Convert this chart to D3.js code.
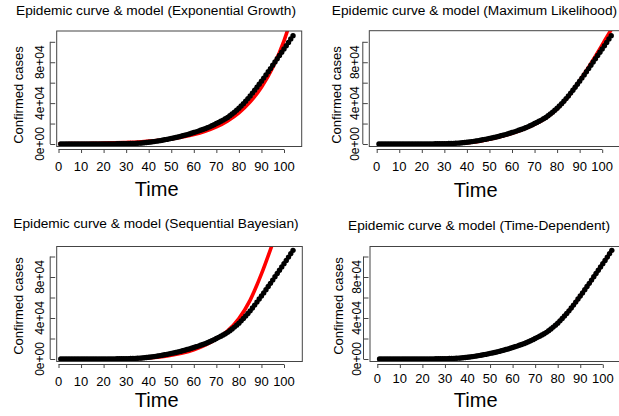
<!DOCTYPE html>
<html>
<head>
<meta charset="utf-8">
<script src="https://cdn.jsdelivr.net/npm/d3@7/dist/d3.min.js"></script>
<style>
  html, body { margin: 0; padding: 0; background: #fff; }
  svg { display: block; }
  text { font-family: "Liberation Sans", Arial, Helvetica, sans-serif; fill: #000; }
</style>
</head>
<body>
<svg id="chart" width="619" height="416"></svg>
<script>
// ---- Data ----
const cases = [
  5, 6, 8, 10, 12, 15, 18, 20, 25, 30,
  35, 40, 45, 50, 55, 60, 70, 80, 95, 110,
  120, 130, 140, 155, 170, 190, 215, 245, 290, 350,
  400, 450, 520, 600, 700, 820, 960, 1150, 1400, 1700,
  2000, 2300, 2600, 2950, 3300, 3700, 4100, 4500, 5000, 5500,
  5900, 6400, 6900, 7400, 8000, 8600, 9200, 9800, 10500, 11200,
  11900, 12600, 13400, 14200, 15000, 15900, 16800, 17800, 18900, 20000,
  21100, 22200, 23400, 24700, 26000, 27600, 29300, 31100, 33000, 35000,
  37200, 39500, 41900, 44400, 47000, 49800, 52600, 55500, 58500, 61500,
  64500, 67600, 70700, 73800, 77000, 80200, 83400, 86600, 89800, 93000,
  96200, 99400, 102700, 106000
];
const days = cases.map((_, i) => i + 1);

// Exponential Growth model
const egTime  = [0, 5, 10, 15, 20, 25, 30, 35, 40, 45, 50, 55, 60, 65, 70, 75, 80, 85, 90, 95, 100, 102];
const egModel = [250, 340, 460, 620, 830, 1100, 1500, 2000, 2800, 3700, 5000, 6800, 9200, 12400, 16700, 22600, 30500, 41200, 55600, 75000, 101000, 114000];

// Maximum Likelihood model
const mlTime  = [1, 10, 20, 30, 35, 40, 45, 50, 55, 60, 65, 70, 75, 80, 85, 90, 95, 100, 102, 104];
const mlModel = [30, 60, 150, 400, 700, 1200, 2500, 4600, 7300, 10500, 14400, 19200, 25500, 34300, 46500, 61800, 78800, 97000, 104500, 112000];

// Sequential Bayesian model
const sbTime  = [1, 10, 20, 30, 35, 40, 45, 50, 55, 60, 65, 70, 75, 80, 85, 90, 95];
const sbModel = [5, 20, 80, 250, 500, 1000, 2000, 3600, 5800, 9000, 13500, 19500, 27500, 39500, 57500, 83000, 113000];

// Time-Dependent model (overlaps the observed curve)
const tdTime  = days;
const tdModel = cases;

const xTicks = [0, 10, 20, 30, 40, 50, 60, 70, 80, 90, 100];
const yTicks = [0, 20000, 40000, 60000, 80000, 100000];
const yTickLabels = {0: "0e+00", 40000: "4e+04", 80000: "8e+04"};

const titles = [
  "Epidemic curve & model (Exponential Growth)",
  "Epidemic curve & model (Maximum Likelihood)",
  "Epidemic curve & model (Sequential Bayesian)",
  "Epidemic curve & model (Time-Dependent)"
];

// ---- Layout per panel ----
const panels = [
  { title: titles[0], mt: egTime, mv: egModel,
    box: {l: 56.7, r: 301.7, t: 31, b: 146.5}, x0: 58.5, y0: 144, y100: 41.8,
    titleX: 156, titleY: 15, timeX: 156.7, timeY: 196, ylabX: 18.3, ylabY: 95, tickLabX: 40, xLabY: 171 },
  { title: titles[1], mt: mlTime, mv: mlModel,
    box: {l: 369.3, r: 620, t: 30.7, b: 146.5}, x0: 376.7, y0: 144, y100: 41.8,
    titleX: 474.5, titleY: 15, timeX: 475.7, timeY: 197, ylabX: 336.7, ylabY: 95, tickLabX: 355, xLabY: 171 },
  { title: titles[2], mt: sbTime, mv: sbModel,
    box: {l: 56.7, r: 302.3, t: 246.5, b: 361.5}, x0: 58.5, y0: 359, y100: 256.5,
    titleX: 156, titleY: 227.5, timeX: 156.7, timeY: 407, ylabX: 18.3, ylabY: 306, tickLabX: 40, xLabY: 385.5 },
  { title: titles[3], mt: tdTime, mv: tdModel,
    box: {l: 370, r: 620, t: 246.5, b: 361.5}, x0: 377.3, y0: 359, y100: 256.5,
    titleX: 479, titleY: 229.5, timeX: 475.7, timeY: 407, ylabX: 338, ylabY: 306, tickLabX: 356.7, xLabY: 383 }
];

const svg = d3.select("#chart");
const pxPer10 = 22.55;

panels.forEach((p, i) => {
  const b = p.box;
  const x = d3.scaleLinear()
    .domain([(b.l - p.x0) / pxPer10 * 10, (b.r - p.x0) / pxPer10 * 10])
    .range([b.l, b.r]);
  const pxPerUnit = (p.y0 - p.y100) / 100000;
  const y = d3.scaleLinear()
    .domain([(p.y0 - b.b) / pxPerUnit, (p.y0 - b.t) / pxPerUnit])
    .range([b.b, b.t]);

  const g = svg.append("g");

  g.append("clipPath").attr("id", "clip" + i)
    .append("rect").attr("x", b.l).attr("y", b.t)
    .attr("width", b.r - b.l).attr("height", b.b - b.t);

  // model line
  const line = d3.line().x((d, j) => x(p.mt[j])).y(d => y(d)).curve(d3.curveMonotoneX);
  g.append("path")
    .attr("clip-path", `url(#clip${i})`)
    .attr("d", line(p.mv))
    .attr("fill", "none").attr("stroke", "#ff0000").attr("stroke-width", 3.6);

  // observed points
  g.append("g").attr("clip-path", `url(#clip${i})`)
    .selectAll("circle").data(cases).join("circle")
    .attr("cx", (d, j) => x(days[j])).attr("cy", d => y(d))
    .attr("r", 2.7).attr("fill", "#000");

  // box
  g.append("rect").attr("x", b.l).attr("y", b.t)
    .attr("width", b.r - b.l).attr("height", b.b - b.t)
    .attr("fill", "none").attr("stroke", "#444").attr("stroke-width", 1);

  // x axis
  const xa = g.append("g").attr("transform", `translate(0,${b.b + 3})`);
  xa.call(d3.axisBottom(x).tickValues(xTicks).tickSize(3.5).tickFormat(""));
  xa.select(".domain").attr("stroke", "#444").attr("d", `M${x(0)},0H${x(100)}`);
  xa.selectAll(".tick line").attr("stroke", "#444");
  g.selectAll(".xlab").data(xTicks).join("text")
    .attr("x", d => x(d)).attr("y", p.xLabY)
    .attr("text-anchor", "middle").style("font-size", "13px")
    .text(d => d);

  // y axis
  const axX = b.l - 6.5;
  const ya = g.append("g").attr("transform", `translate(${axX},0)`);
  ya.call(d3.axisRight(y).tickValues(yTicks).tickSize(5).tickFormat(""));
  ya.select(".domain").attr("stroke", "#444").attr("d", `M0,${y(0)}V${y(100000)}`);
  ya.selectAll(".tick line").attr("stroke", "#444");
  yTicks.filter(v => yTickLabels[v]).forEach(v => {
    g.append("text")
      .attr("transform", `translate(${p.tickLabX},${y(v)}) rotate(-90)`)
      .attr("text-anchor", "middle").attr("dy", "0.35em")
      .style("font-size", "12px").text(yTickLabels[v]);
  });

  // labels
  g.append("text").attr("x", p.titleX).attr("y", p.titleY)
    .attr("text-anchor", "middle").style("font-size", "13.7px").text(p.title);
  g.append("text").attr("x", p.timeX).attr("y", p.timeY)
    .attr("text-anchor", "middle").style("font-size", "20px").text("Time");
  g.append("text")
    .attr("transform", `translate(${p.ylabX},${p.ylabY}) rotate(-90)`)
    .attr("text-anchor", "middle").attr("dy", "0.35em")
    .style("font-size", "13px").text("Confirmed cases");
});
</script>
</body>
</html>
